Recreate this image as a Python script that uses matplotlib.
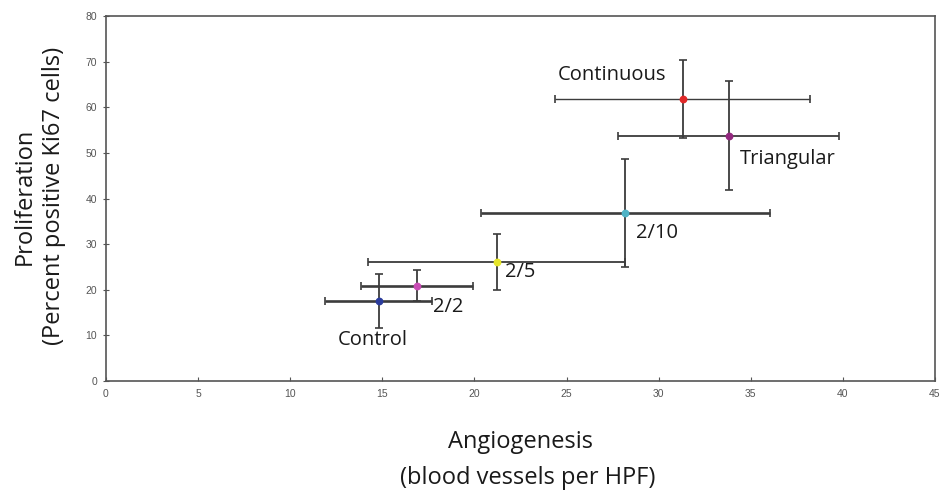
import matplotlib
matplotlib.use("Agg")
import matplotlib.pyplot as plt

groups = ["Control", "2/2", "2/5", "2/10", "Continuous", "Triangular"]
angio = [14.8, 16.9, 21.2, 28.2, 31.3, 33.8]
angio_err = [2.9, 3.05, 7.0, 7.85, 6.9, 6.0]
prolif = [17.6, 20.9, 26.1, 36.8, 61.8, 53.8]
prolif_err = [5.9, 3.4, 6.2, 11.9, 8.6, 11.9]
colors = ["#2b3c9c", "#c84bb4", "#e6e62a", "#4fb3c6", "#e02828", "#93287f"]
xerr_lw = [1.9, 1.9, 1.3, 1.9, 1.0, 1.3]
yerr_lw = [1.3, 1.3, 1.3, 1.3, 1.3, 1.3]
label_offsets = [(-6, -39, "center"), (16, -21, "left"), (8, -10, "left"),
                 (11, -20, "left"), (-71, 24, "center"), (11, -23, "left")]

xticks = list(range(0, 46, 5))
yticks = list(range(0, 81, 10))

FONT = "Open Sans"

fig = plt.figure(figsize=(9.52, 4.94), dpi=100)
ax = fig.add_axes([0.1113, 0.2287, 0.8708, 0.7389])

ecol = "#3c3c3c"
for i in range(len(groups)):
    ax.errorbar(angio[i], prolif[i], xerr=angio_err[i], fmt="none",
                ecolor=ecol, elinewidth=xerr_lw[i], capsize=3, capthick=1.2)
    ax.errorbar(angio[i], prolif[i], yerr=prolif_err[i], fmt="none",
                ecolor=ecol, elinewidth=yerr_lw[i], capsize=3, capthick=1.2)
    ax.plot(angio[i], prolif[i], "o", color=colors[i], markersize=4.6, zorder=5)
    dx, dy, ha = label_offsets[i]
    ax.annotate(groups[i], (angio[i], prolif[i]), xytext=(dx, dy),
                textcoords="offset pixels", ha=ha, va="center",
                fontsize=14.5, family=FONT, color="#1a1a1a")

ax.set_xlim(0, 45)
ax.set_ylim(0, 80)
ax.set_xticks(xticks)
ax.set_yticks(yticks)
ax.set_xticklabels([str(t) for t in xticks], fontsize=7.5, color="#555555", family="Liberation Sans")
ax.set_yticklabels([str(t) for t in yticks], fontsize=7.5, color="#555555", family="Liberation Sans")
ax.tick_params(axis="x", direction="in", length=3, color="#555555", pad=6)
ax.tick_params(axis="y", direction="inout", length=5, color="#555555", pad=4)
for s in ax.spines.values():
    s.set_color("#555555")
    s.set_linewidth(1.2)

fig.text(520 / 952, 1 - 442 / 494, "Angiogenesis", ha="center", va="center",
         fontsize=17, family=FONT, color="#1a1a1a")
fig.text(528 / 952, 1 - 478 / 494, "(blood vessels per HPF)", ha="center", va="center",
         fontsize=17, family=FONT, color="#1a1a1a")
fig.text(25 / 952, 1 - 196 / 494, "Proliferation", ha="center", va="center",
         rotation=90, fontsize=17, family=FONT, color="#1a1a1a")
fig.text(54 / 952, 1 - 196 / 494, "(Percent positive Ki67 cells)", ha="center", va="center",
         rotation=90, fontsize=17, family=FONT, color="#1a1a1a")

fig.savefig("out.png", dpi=100)
